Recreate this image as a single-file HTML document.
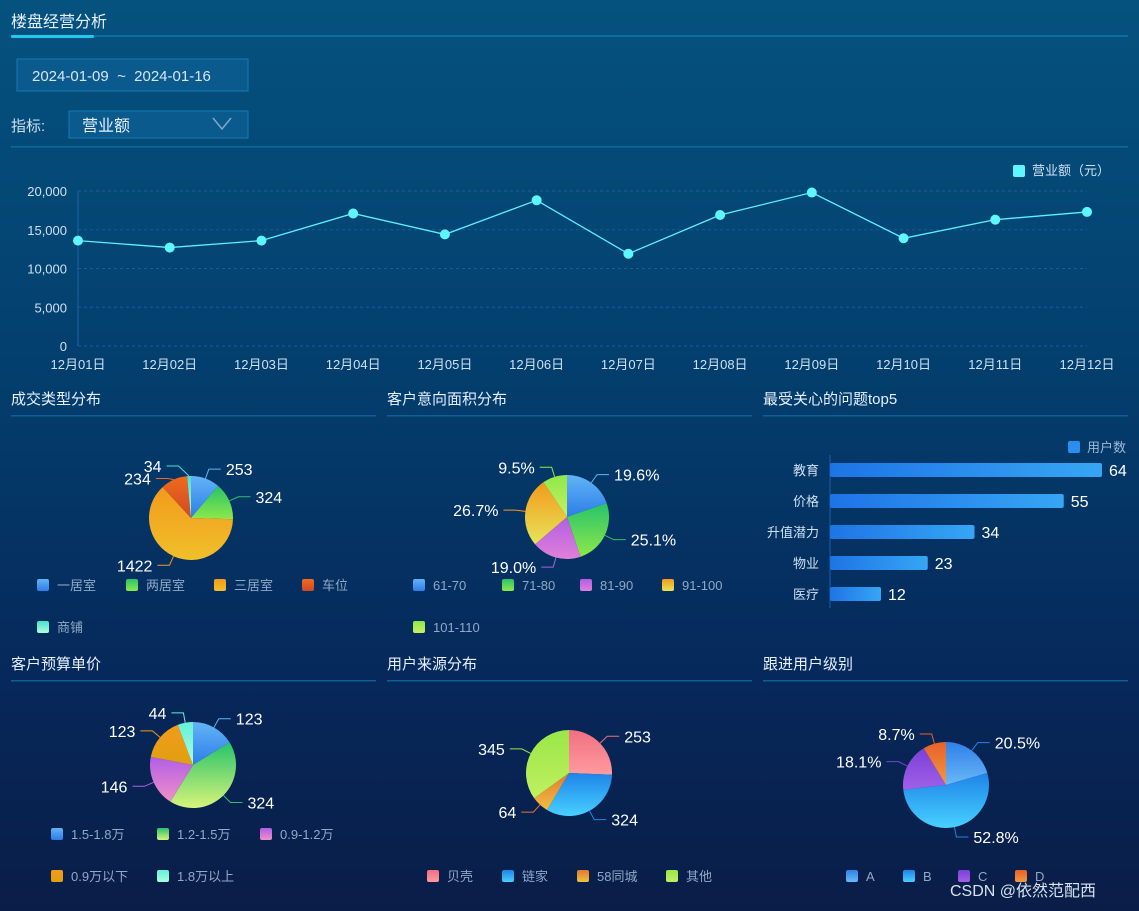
<!DOCTYPE html>
<html><head><meta charset="utf-8">
<style>
html,body{margin:0;padding:0;}
body{width:1139px;height:911px;overflow:hidden;background:linear-gradient(180deg,#05527f 0%,#033f6e 40%,#06285a 75%,#0a1d48 100%);font-family:"Liberation Sans","Noto Sans CJK SC",sans-serif;}
svg{display:block;}
svg text{font-family:"Liberation Sans","Noto Sans CJK SC",sans-serif;}
</style></head><body>
<svg id="s" width="1139" height="911" xmlns="http://www.w3.org/2000/svg">
<defs>
<linearGradient id="barG" x1="0" x2="1"><stop offset="0" stop-color="#1e74e6"/><stop offset="1" stop-color="#36a6f4"/></linearGradient>
</defs>
<text x="11" y="27" fill="#e6f0ff" font-size="16">楼盘经营分析</text>
<rect x="11" y="35" width="1117" height="2" fill="#0b6ea3"/>
<rect x="11" y="35" width="83" height="3" rx="1.5" fill="#22c8f0"/>
<g>
<rect x="17" y="59" width="231" height="32" fill="#0a5a8e" stroke="#1a78b4" stroke-width="1"/>
<text x="32" y="81" fill="#d6e6f7" font-size="15" xml:space="preserve">2024-01-09  ~  2024-01-16</text>
</g>
<text x="11" y="131" fill="#cfe0f2" font-size="15">指标:</text>
<g>
<rect x="69" y="111" width="179" height="27" fill="#0a5a8e" stroke="#1a78b4" stroke-width="1"/>
<text x="82" y="131" fill="#e6f0ff" font-size="16">营业额</text>
<path d="M213 118 L222 129 L231 118" fill="none" stroke="#7fa9c8" stroke-width="1.5"/>
</g>
<rect x="11" y="146" width="1117" height="1.5" fill="#0c6a9e"/>
<g id="line"></g>
<g id="panels"></g>
<text x="950" y="896" fill="#d8e2ee" font-size="16">CSDN @依然范配西</text>
</svg>
<script>
const NS='http://www.w3.org/2000/svg';
function el(p,tag,a,txt){const e=document.createElementNS(NS,tag);for(const k in a)e.setAttribute(k,a[k]);if(txt!=null)e.textContent=txt;p.appendChild(e);return e;}

// line chart data
const lineCats=['12月01日','12月02日','12月03日','12月04日','12月05日','12月06日','12月07日','12月08日','12月09日','12月10日','12月11日','12月12日'];
const lineVals=[13600,12700,13600,17100,14400,18800,11900,16900,19800,13900,16300,17300];
const lineTicks=[0,5000,10000,15000,20000];
const L=document.getElementById('line');
const lx=i=>78+i*(1087-78)/(lineCats.length-1);
const ly=v=>346-v*(346-191)/20000;
lineTicks.forEach(t=>{
  const g=el(L,'line',{x1:78,x2:1087,y1:ly(t),y2:ly(t),stroke:'#1a5a9a','stroke-dasharray':'3,3','stroke-width':1});
  
  const tx=el(L,'text',{x:67,y:ly(t)+5,fill:'#cfe0f2','font-size':13,'text-anchor':'end'},t.toLocaleString('en-US'));
  
});
const ax=el(L,'line',{x1:78,x2:78,y1:191,y2:346,stroke:'#1b64a8'});

lineCats.forEach((c,i)=>{
  const tx=el(L,'text',{x:lx(i),y:369,fill:'#cfe0f2','font-size':13,'text-anchor':'middle'},c);
  
});
const pl=el(L,'polyline',{points:lineVals.map((v,i)=>lx(i)+','+ly(v)).join(' '),fill:'none',stroke:'#5ff0ff','stroke-width':1.3});

lineVals.forEach((v,i)=>{
  const c=el(L,'circle',{cx:lx(i),cy:ly(v),r:5,fill:'#5ff7ff'});
  
});
const lg=el(L,'g',{});

el(lg,'rect',{x:1013,y:165,width:12,height:12,rx:2,fill:'#5ff7ff'});
el(lg,'text',{x:1032,y:175,fill:'#cfe0f2','font-size':13},'营业额（元）');

// panels
const P=document.getElementById('panels');
const panelTitles=[['成交类型分布',11,398],['客户意向面积分布',387,398],['最受关心的问题top5',763,398],['客户预算单价',11,663],['用户来源分布',387,663],['跟进用户级别',763,663]];
panelTitles.forEach(p=>{
  const t=el(P,'text',{x:p[1],y:p[2]+6,fill:'#e6f0ff','font-size':15},p[0]);
  
  const r=el(P,'rect',{x:p[1],y:p[2]+17,width:365,height:1.5,fill:'#0c5f98'});
  
});

// bar chart
const barCats=['教育','价格','升值潜力','物业','医疗'];
const barVals=[64,55,34,23,12];
const bx=v=>830+v*(1102-830)/64;
const by=i=>470+i*31;
const ba=el(P,'line',{x1:830,x2:830,y1:455,y2:608,stroke:'#1b5fa8'});

barCats.forEach((c,i)=>{
  const r=el(P,'rect',{x:830,y:by(i)-7,width:bx(barVals[i])-830,height:14,rx:2,fill:'url(#barG)'});
  
  const t=el(P,'text',{x:819,y:by(i)+5,fill:'#cfe0f2','font-size':13,'text-anchor':'end'},c);
  
  const v=el(P,'text',{x:bx(barVals[i])+7,y:by(i)+6,fill:'#fff','font-size':16},barVals[i]);
  
});
const bl=el(P,'g',{});
el(bl,'rect',{x:1068,y:441,width:12,height:12,rx:2,fill:'#2a8ef0'});
el(bl,'text',{x:1087,y:452,fill:'#9fbcd8','font-size':13},'用户数');

// pies
const pie1Names=['一居室','两居室','三居室','车位','商铺'];
const pie1Vals=[253,324,1422,234,34];
const pie2Names=['61-70','71-80','81-90','91-100','101-110'];
const pie2Vals=[19.6,25.1,19.0,26.7,9.5];
const pie3Names=['1.5-1.8万','1.2-1.5万','0.9-1.2万','0.9万以下','1.8万以上'];
const pie3Vals=[123,324,146,123,44];
const pie4Names=['贝壳','链家','58同城','其他'];
const pie4Vals=[253,324,64,345];
const pie5Names=['A','B','C','D'];
const pie5Vals=[20.5,52.8,18.1,8.7];

const colsA=[['#62b4f6','#2d7de8'],['#27c36b','#8ee84a'],['#f29a1c','#f0c02a'],['#f06a1e','#cf4a22'],['#47e0d0','#b0ffd8']];
const colsB=[['#62b4f6','#2d7de8'],['#27c36b','#8ee84a'],['#b15ee6','#e080d8'],['#f29a1c','#e8e458'],['#8ee84a','#c8f060']];
const colsC=[['#62b4f6','#2d7de8'],['#27c36b','#d8f47a'],['#b15ee6','#f090c8'],['#f29a1c','#e0a010'],['#66f0d8','#a8ffe0']];
const colsD=[['#f07080','#ff9aa0'],['#1e84e8','#48d0ff'],['#e07a30','#f0c040'],['#9ae648','#c0f060']];
const colsE=[['#2f80e8','#6ab8f8'],['#1e84e8','#48d0ff'],['#7a40d8','#a060e8'],['#e8602a','#f09a40']];
let gid=0;
function pie(cx,cy,r,names,vals,cols,fmt,legend,name,nudge){
  nudge=nudge||{};
  const g=el(P,'g',{});
  const tot=vals.reduce((a,b)=>a+b,0);let a0=-Math.PI/2;
  vals.forEach((v,i)=>{
    const a1=a0+v/tot*2*Math.PI;
    const id='pg'+(gid++);
    const lgd=el(g,'linearGradient',{id:id,x1:0,y1:0,x2:0,y2:1});
    el(lgd,'stop',{offset:0,'stop-color':cols[i][0]});el(lgd,'stop',{offset:1,'stop-color':cols[i][1]});
    const large=(a1-a0)>Math.PI?1:0;
    const d=`M${cx},${cy} L${cx+r*Math.cos(a0)},${cy+r*Math.sin(a0)} A${r},${r} 0 ${large} 1 ${cx+r*Math.cos(a1)},${cy+r*Math.sin(a1)} Z`;
    const s=el(g,'path',{d:d,fill:`url(#${id})`});
    
    const m=(a0+a1)/2,cs=Math.cos(m),sn=Math.sin(m);
    const n=nudge[i]||[0,0];
    const p1=[cx+r*cs,cy+r*sn],p2=[cx+(r+10)*cs+n[0],cy+(r+10)*sn+n[1]],dir=cs>=0?1:-1,p3=[p2[0]+dir*12,p2[1]];
    el(g,'polyline',{points:`${p1} ${p2} ${p3}`,fill:'none',stroke:cols[i][0],'stroke-width':1});
    const t=el(g,'text',{x:p3[0]+dir*5,y:p3[1]+6,fill:'#fff','font-size':16,'text-anchor':dir>0?'start':'end'},fmt(v));
    
    a0=a1;
  });
  legend.forEach((pos,i)=>{
    const lg=el(g,'g',{});
    const id='lg'+(gid++);
    const lgd=el(lg,'linearGradient',{id:id,x1:0,y1:0,x2:0,y2:1});
    el(lgd,'stop',{offset:0,'stop-color':cols[i][0]});el(lgd,'stop',{offset:1,'stop-color':cols[i][1]});
    el(lg,'rect',{x:pos[0],y:pos[1]-6,width:12,height:12,rx:2,fill:`url(#${id})`});
    el(lg,'text',{x:pos[0]+20,y:pos[1]+5,fill:'#8fa9c6','font-size':13},names[i]);
  });
}
const intf=v=>String(v), pf=v=>v.toFixed(1)+'%';
pie(191,518,42,pie1Names,pie1Vals,colsA,intf,[[37,585],[126,585],[214,585],[302,585],[37,627]],'deal-type-pie',{3:[-2,8],4:[-10,0]});
pie(567,517,42,pie2Names,pie2Vals,colsB,pf,[[413,585],[502,585],[580,585],[662,585],[413,627]],'area-pie');
pie(193,765,43,pie3Names,pie3Vals,colsC,intf,[[51,834],[157,834],[260,834],[51,876],[157,876]],'budget-pie');
pie(569,773,43,pie4Names,pie4Vals,colsD,intf,[[427,876],[502,876],[577,876],[666,876]],'source-pie');
pie(946,785,43,pie5Names,pie5Vals,colsE,pf,[[846,876],[903,876],[958,876],[1015,876]],'level-pie');
</script>
</body></html>
